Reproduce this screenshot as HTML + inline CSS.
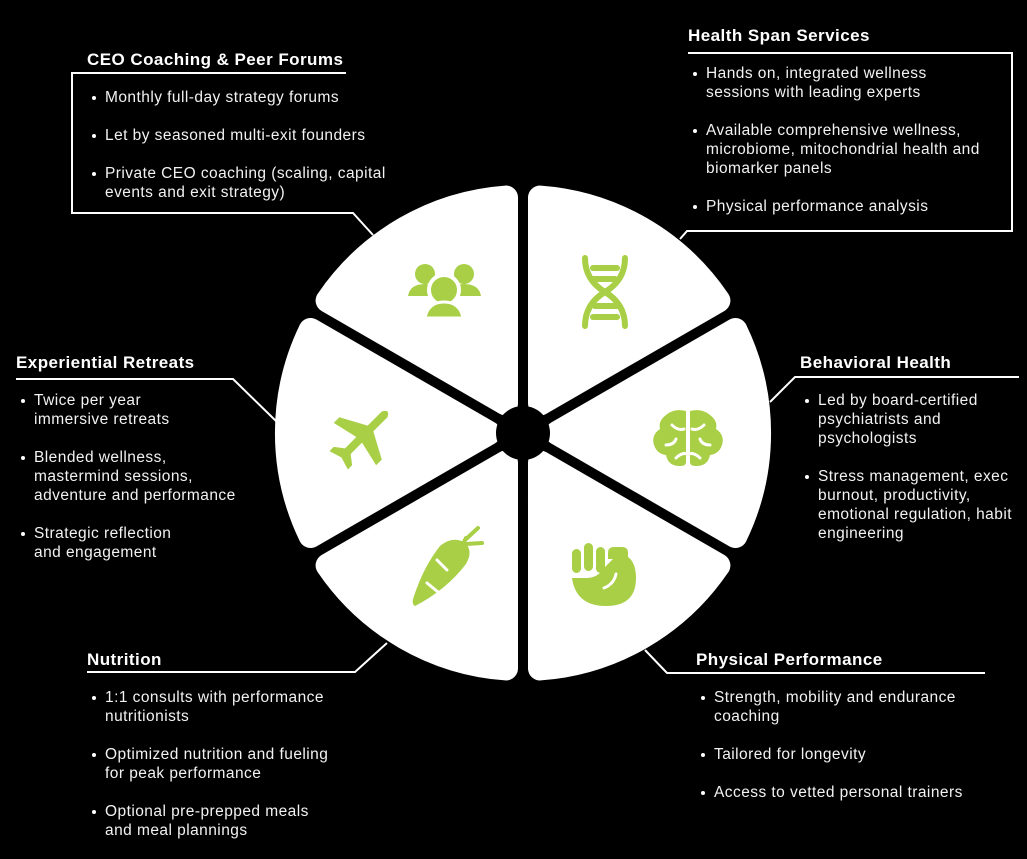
<!DOCTYPE html>
<html><head><meta charset="utf-8"><style>
html,body{margin:0;padding:0;background:#000;}
body{width:1027px;height:856px;position:relative;overflow:hidden;font-family:"Liberation Sans",sans-serif;color:#fff;}
.t{position:absolute;font-weight:bold;font-size:17px;line-height:20px;white-space:nowrap;letter-spacing:0.45px;}
.b{position:absolute;font-size:15.5px;line-height:19px;color:#f2f2f2;letter-spacing:0.45px;}
.b div{position:relative;margin-bottom:19px;white-space:nowrap;}
.b div:before{content:"";position:absolute;left:-13px;top:8px;width:4px;height:4px;border-radius:50%;background:#fff;}
svg{position:absolute;left:0;top:0;}
</style></head><body>
<svg width="1027" height="856" viewBox="0 0 1027 856">
<defs>
<path id="w" d="M0,-34 L-103,-212.4 A236,236 0 0 1 103,-212.4 Z" fill="#fff" stroke="#fff" stroke-width="24" stroke-linejoin="round"/>
</defs>
<g transform="translate(523,433)">
<use href="#w" transform="rotate(30)"/>
<use href="#w" transform="rotate(90)"/>
<use href="#w" transform="rotate(150)"/>
<use href="#w" transform="rotate(210)"/>
<use href="#w" transform="rotate(270)"/>
<use href="#w" transform="rotate(330)"/>
<circle r="27" fill="#000"/>
</g>
<g fill="none" stroke="#fff" stroke-width="2">
<polyline points="346,73 72,73 72,213 353,213 373,235"/>
<polyline points="688,53 1012,53 1012,231 687,231 680,239"/>
<polyline points="16,379 233,379 276,421"/>
<polyline points="1019,377 795,377 770,402"/>
<polyline points="87,672 355,672 387,643"/>
<polyline points="985,673 667,673 645,650"/>
</g>
<g fill="#a8cf45">
<circle cx="425" cy="274" r="10"/><path d="M408,296 q2,-12 17,-12 q15,0 17,12 z"/>
<circle cx="464" cy="274" r="10"/><path d="M447,296 q2,-12 17,-12 q15,0 17,12 z"/>
<circle cx="444" cy="290" r="15" stroke="#fff" stroke-width="4"/>
<path d="M425,318 q3,-16 19,-16 q16,0 19,16 z" stroke="#fff" stroke-width="3"/>
<g transform="translate(362,437) rotate(45)">
<path d="M-4,-32 q4,-8 8,0 l0,20 l26,14 l0,8 l-26,-6 l0,16 l9,7 l0,6 l-13,-4 l-13,4 l0,-6 l9,-7 l0,-16 l-26,6 l0,-8 l26,-14 z"/>
</g>
<path d="M686,411 q-12,-3 -20,4 q-8,6 -6,14 q-9,6 -6,16 q3,9 12,10 q2,11 14,11 q6,0 6,-4 z"/>
<path d="M690,411 q12,-3 20,4 q8,6 6,14 q9,6 6,16 q-3,9 -12,10 q-2,11 -14,11 q-6,0 -6,-4 z"/>
<g stroke="#fff" stroke-width="3" fill="none" stroke-linecap="round"><path d="M672,425 q6,6 12,4"/><path d="M704,425 q-6,6 -12,4"/><path d="M666,445 q8,0 10,-6"/><path d="M710,445 q-8,0 -10,-6"/><path d="M676,458 q6,-6 12,-4"/><path d="M700,458 q-6,-6 -12,-4"/></g>
<path d="M415,606 q-4,-2 -1,-10 q10,-30 26,-50 q12,-10 24,-4 q10,8 2,22 q-20,26 -51,42 z"/>
<g stroke="#a8cf45" stroke-width="4" stroke-linecap="round"><line x1="462" y1="546" x2="466" y2="538"/><line x1="466" y1="544" x2="482" y2="543"/><line x1="465" y1="540" x2="478" y2="528"/></g>
<g stroke="#fff" stroke-width="3" stroke-linecap="round"><line x1="437" y1="560" x2="447" y2="570"/><line x1="427" y1="583" x2="438" y2="592"/></g>
<rect x="572" y="549" width="9" height="24" rx="4.5"/>
<rect x="584" y="543" width="9" height="28" rx="4.5"/>
<rect x="596" y="547" width="9" height="26" rx="4.5"/>
<path d="M572,578 l14,0 q12,0 18,-10 l10,-10 q2,-4 8,-4 q14,4 14,24 q0,28 -30,28 q-30,0 -34,-28 z"/>
<path d="M608,553 q0,-6 6,-6 l8,0 q6,0 6,6 l0,6 l-20,0 z"/>
<path d="M604,588 q10,-4 12,-14" stroke="#fff" stroke-width="3" fill="none" stroke-linecap="round"/>
</g>
<g fill="none" stroke="#a8cf45" stroke-width="6" stroke-linecap="round">
<path d="M585,258 q0,22 20,34 q20,12 20,34"/>
<path d="M625,258 q0,22 -20,34 q-20,12 -20,34"/>
<line x1="593" y1="268" x2="617" y2="268"/>
<line x1="593" y1="279" x2="615" y2="279"/>
<line x1="595" y1="306" x2="617" y2="306"/>
<line x1="593" y1="317" x2="617" y2="317"/>
</g>
</svg>

<div class="t" style="left:87px;top:50px">CEO Coaching &amp; Peer Forums</div>
<div class="b" style="left:105px;top:88px"><div>Monthly full-day strategy forums</div><div>Let by seasoned multi-exit founders</div><div>Private CEO coaching (scaling, capital<br>events and exit strategy)</div></div>

<div class="t" style="left:688px;top:26px">Health Span Services</div>
<div class="b" style="left:706px;top:64px"><div>Hands on, integrated wellness<br>sessions with leading experts</div><div>Available comprehensive wellness,<br>microbiome, mitochondrial health and<br>biomarker panels</div><div>Physical performance analysis</div></div>

<div class="t" style="left:16px;top:353px">Experiential Retreats</div>
<div class="b" style="left:34px;top:391px"><div>Twice per year<br>immersive retreats</div><div>Blended wellness,<br>mastermind sessions,<br>adventure and performance</div><div>Strategic reflection<br>and engagement</div></div>

<div class="t" style="left:800px;top:353px">Behavioral Health</div>
<div class="b" style="left:818px;top:391px"><div>Led by board-certified<br>psychiatrists and<br>psychologists</div><div>Stress management, exec<br>burnout, productivity,<br>emotional regulation, habit<br>engineering</div></div>

<div class="t" style="left:87px;top:650px">Nutrition</div>
<div class="b" style="left:105px;top:688px"><div>1:1 consults with performance<br>nutritionists</div><div>Optimized nutrition and fueling<br>for peak performance</div><div>Optional pre-prepped meals<br>and meal plannings</div></div>

<div class="t" style="left:696px;top:650px">Physical Performance</div>
<div class="b" style="left:714px;top:688px"><div>Strength, mobility and endurance<br>coaching</div><div>Tailored for longevity</div><div>Access to vetted personal trainers</div></div>
</body></html>
